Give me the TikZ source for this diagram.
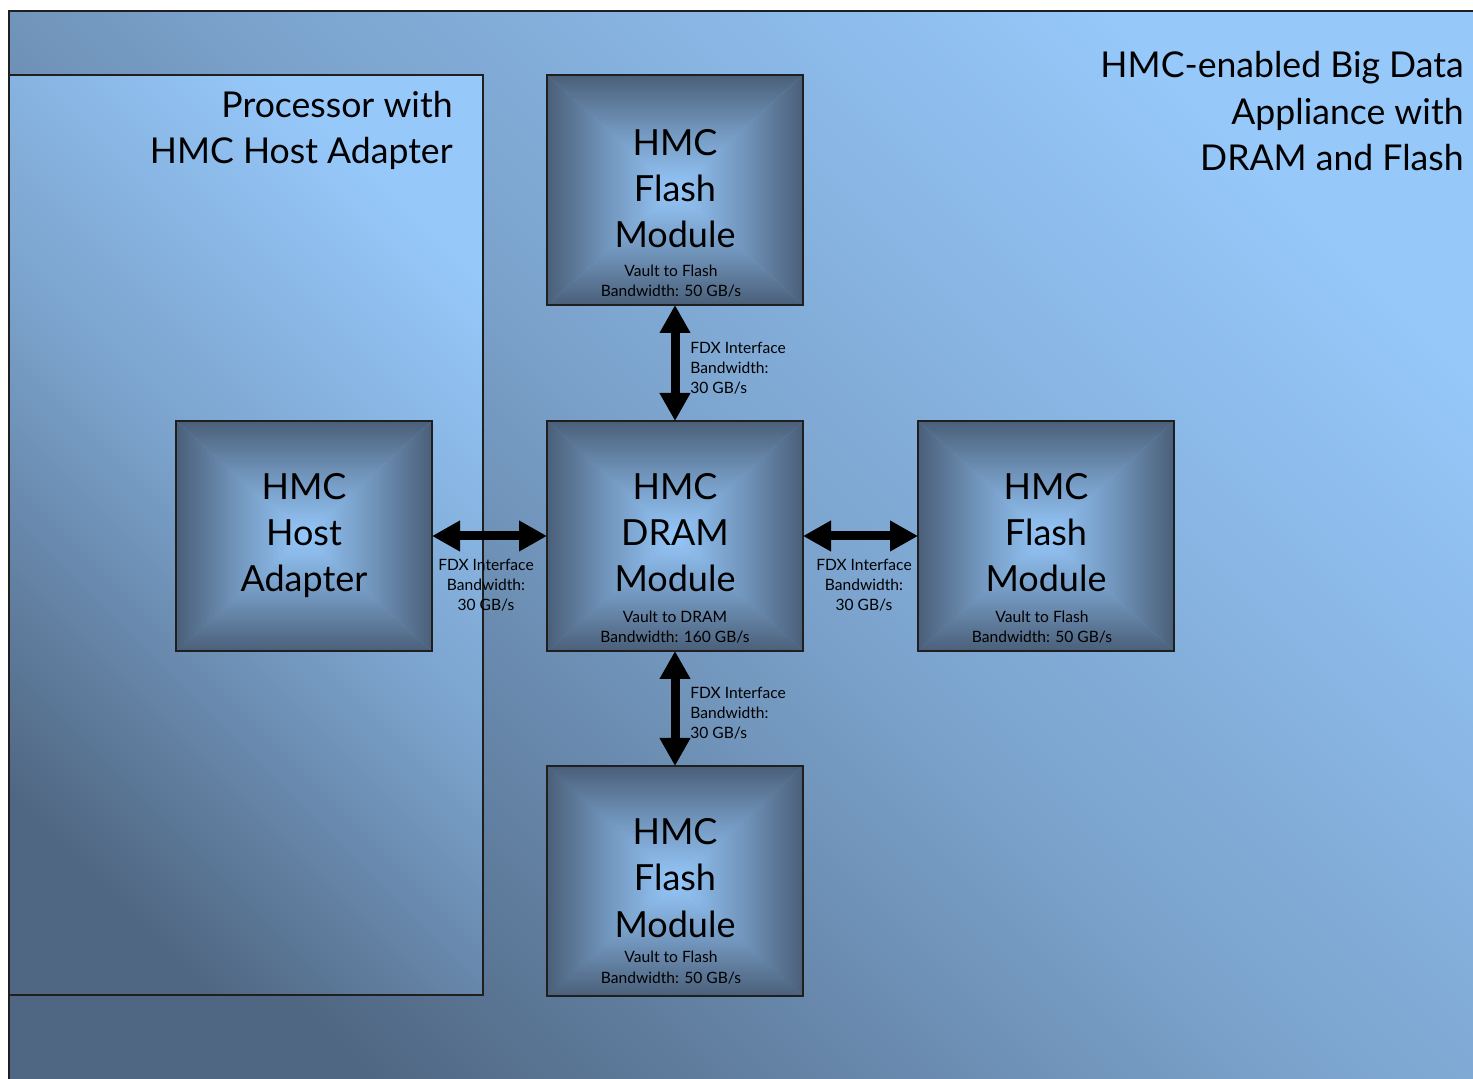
\documentclass[tikz,border=0pt]{standalone}
\usepackage{fontspec}
\setmainfont{Lato}
\usetikzlibrary{arrows.meta}
\definecolor{dk}{HTML}{4A5F79}
\definecolor{lt}{HTML}{96C8FA}
\tikzset{
  modbox/.style={rectangle, minimum width=128pt, minimum height=115pt, inner sep=0pt, outer sep=0pt},
  border/.style={draw=black!88, line width=1pt},
  bigtxt/.style={font=\fontsize{18}{23.2}\selectfont, align=center, anchor=base, inner sep=0pt},
  titletxt/.style={font=\fontsize{17.8}{23.4}\selectfont, align=right, anchor=base east, inner sep=0pt},
  smalltxt/.style={font=\fontsize{7.8}{10.2}\selectfont, align=center, anchor=base, inner sep=0pt},
  fdxlabel/.style={font=\fontsize{7.8}{10.1}\selectfont, inner sep=0pt},
  fdx/.style={line width=4.5pt, {Triangle[length=14pt,width=14.5pt]}-{Triangle[length=14pt,width=14.5pt]}},
  diag/.style={top color=lt, bottom color=dk!92!lt, middle color=lt!63!dk, shading angle=-45},
}
\newcommand{\pyrshade}[1]{%
  \shade[top color=dk, bottom color=lt, middle color=lt!55!dk] (#1.north west) -- (#1.north east) -- (#1.center) -- cycle;
  \shade[top color=lt, bottom color=dk, middle color=lt!55!dk] (#1.south west) -- (#1.south east) -- (#1.center) -- cycle;
  \shade[left color=dk, right color=lt, middle color=lt!55!dk] (#1.north west) -- (#1.south west) -- (#1.center) -- cycle;
  \shade[left color=lt, right color=dk, middle color=lt!55!dk] (#1.north east) -- (#1.south east) -- (#1.center) -- cycle;
  \draw[border] (#1.north west) rectangle (#1.south east);
}
\begin{document}
\begin{tikzpicture}[x=0.5pt,y=-0.5pt]
\useasboundingbox (0,0) rectangle (1473,1079);
\fill[white] (0,0) rectangle (1473,1079);
\begin{scope}
  \clip (0,0) rectangle (1473,1079);
  \shade[diag] (9,11) rectangle (1490,1095);
  \draw[border] (1490,11) -- (9,11) -- (9,1095);
\end{scope}
% processor box
\node[modbox, minimum width=237pt, minimum height=460pt, shade, diag, border] (proc) at (246,535) {};
\node[titletxt] (proctitle) at (453,164) {Processor with\\HMC Host Adapter};
\node[titletxt] (title) at (1464,171) {HMC-enabled Big Data\\Appliance with\\DRAM and Flash};
% modules
\node[modbox] (tflash) at (675,190) {};
\node[modbox] (dram) at (675,536) {};
\node[modbox] (rflash) at (1046,536) {};
\node[modbox] (bflash) at (675,881) {};
\node[modbox] (host) at (304,536) {};
\pyrshade{tflash}
\pyrshade{dram}
\pyrshade{rflash}
\pyrshade{bflash}
\pyrshade{host}
% module texts
\node[bigtxt] (tflasht) at (675,248) {HMC\\Flash\\Module};
\node[smalltxt] (tflashs) at (671,297) {Vault to Flash\\Bandwidth: 50 GB/s};
\node[bigtxt] (dramt) at (675,592) {HMC\\DRAM\\Module};
\node[smalltxt] (drams) at (675,643) {Vault to DRAM\\Bandwidth: 160 GB/s};
\node[bigtxt] (rflasht) at (1046,592) {HMC\\Flash\\Module};
\node[smalltxt] (rflashs) at (1042,643) {Vault to Flash\\Bandwidth: 50 GB/s};
\node[bigtxt] (bflasht) at (675,937) {HMC\\Flash\\Module};
\node[smalltxt] (bflashs) at (671,983) {Vault to Flash\\Bandwidth: 50 GB/s};
\node[bigtxt] (hostt) at (304,592) {HMC\\Host\\Adapter};
% connectors
\draw[fdx] (host.east) -- (dram.west);
\draw[fdx] (dram.east) -- (rflash.west);
\draw[fdx] (tflash.south) -- (dram.north);
\draw[fdx] (dram.south) -- (bflash.north);
% connector labels
\node[fdxlabel, align=center, anchor=base] (l1) at (486,611) {FDX Interface\\Bandwidth:\\30 GB/s};
\node[fdxlabel, align=center, anchor=base] (l2) at (864,611) {FDX Interface\\Bandwidth:\\30 GB/s};
\node[fdxlabel, align=left, anchor=base west] (l3) at (690,394) {FDX Interface\\Bandwidth:\\30 GB/s};
\node[fdxlabel, align=left, anchor=base west] (l4) at (690,739) {FDX Interface\\Bandwidth:\\30 GB/s};
\end{tikzpicture}
\end{document}
